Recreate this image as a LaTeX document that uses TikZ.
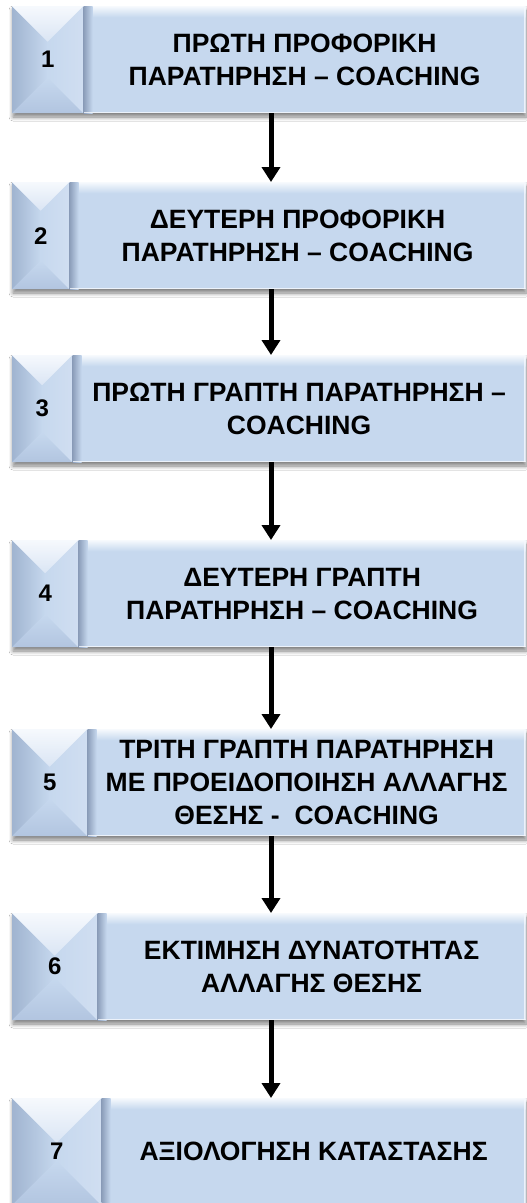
\documentclass[tikz,border=0pt]{standalone}
\usepackage{fontspec}
\setmainfont{Liberation Sans}
\usetikzlibrary{arrows.meta,shadows.blur,calc}

\definecolor{cellfill}{RGB}{198,216,238}
\definecolor{cellhi}{RGB}{246,249,253}
\definecolor{celldark}{RGB}{140,158,186}
\definecolor{facettop}{RGB}{218,229,244}
\definecolor{facetleft}{RGB}{160,180,208}
\definecolor{facetright}{RGB}{208,222,241}
\definecolor{facetbottom}{RGB}{178,197,224}

\tikzset{
  x=1pt, y=-1pt,
  plate/.style={fill=cellfill, blur shadow={shadow xshift=1pt, shadow yshift=-4pt,
      shadow blur radius=4pt, shadow blur steps=6, shadow opacity=50}},
  numcell/.style={minimum height=107pt, inner sep=0pt, text=black,
    font=\fontsize{24}{28}\selectfont\bfseries,
    path picture={
      \coordinate (nw) at (path picture bounding box.north west);
      \coordinate (ne) at (path picture bounding box.north east);
      \coordinate (sw) at (path picture bounding box.south west);
      \coordinate (se) at (path picture bounding box.south east);
      \coordinate (ct) at ($(nw)+(\halfw,\halfw)$);
      \coordinate (cb) at ($(sw)+(\halfw,-\halfw)$);
      \shade[left color=facetleft, right color=cellfill] (nw) -- (ct) -- (cb) -- (sw) -- cycle;
      \shade[left color=cellfill, right color=facetright] (ne) -- (ct) -- (cb) -- (se) -- cycle;
      \shade[top color=cellhi, bottom color=facettop] (nw) -- (ne) -- (ct) -- cycle;
      \shade[top color=cellfill, bottom color=facetbottom] (sw) -- (se) -- (cb) -- cycle;
    }},
  maincell/.style={minimum height=107pt, inner sep=0pt, text=black, align=center,
    font=\fontsize{26.5}{33}\selectfont\bfseries,
    path picture={
      \fill[cellfill] (path picture bounding box.north west) rectangle (path picture bounding box.south east);
      \shade[top color=cellhi, bottom color=cellfill]
        (path picture bounding box.north west) rectangle ($(path picture bounding box.north east)+(0,11)$);
      \shade[left color=celldark, right color=cellfill]
        (path picture bounding box.north west) rectangle ($(path picture bounding box.south west)+(9,0)$);
      \fill[cellhi, opacity=.8]
        ($(path picture bounding box.south west)+(0,-1.5)$) rectangle (path picture bounding box.south east);
      \fill[cellhi, opacity=.8]
        ($(path picture bounding box.north east)+(-1.5,0)$) rectangle (path picture bounding box.south east);
    }},
  flowarrow/.style={line width=5pt, -{Triangle[width=18pt,length=15pt]}, black}
}

% one step: id, top edge, width of the number cell, number, caption
\newcommand\flowstep[5]{%
  \fill[plate] (12,#2) rectangle ++(513,107);
  \pgfmathsetmacro\halfw{#3/2}%
  \node[numcell, minimum width=#3pt, anchor=north west] (n#1) at (12,#2) {#4};
  \pgfmathsetmacro\mainw{513-#3}%
  \node[maincell, minimum width=\mainw pt, anchor=north west] (b#1) at (n#1.north east) {#5};
}

\begin{document}
\begin{tikzpicture}
  \useasboundingbox (0,0) rectangle (527,1203);
  \clip (0,0) rectangle (527,1203);
  \fill[white] (0,0) rectangle (527,1203);

  \coordinate (axis) at (271,0);

  \flowstep{1}{6}{71}{1}{ΠΡΩΤΗ ΠΡΟΦΟΡΙΚΗ\\ΠΑΡΑΤΗΡΗΣΗ – COACHING}
  \flowstep{2}{182}{57}{2}{ΔΕΥΤΕΡΗ ΠΡΟΦΟΡΙΚΗ\\ΠΑΡΑΤΗΡΗΣΗ – COACHING}
  \flowstep{3}{355}{60}{3}{ΠΡΩΤΗ ΓΡΑΠΤΗ ΠΑΡΑΤΗΡΗΣΗ –\\COACHING}
  \flowstep{4}{540}{66}{4}{ΔΕΥΤΕΡΗ ΓΡΑΠΤΗ\\ΠΑΡΑΤΗΡΗΣΗ – COACHING}
  \flowstep{5}{729}{75}{5}{ΤΡΙΤΗ ΓΡΑΠΤΗ ΠΑΡΑΤΗΡΗΣΗ\\ΜΕ ΠΡΟΕΙΔΟΠΟΙΗΣΗ ΑΛΛΑΓΗΣ\\ΘΕΣΗΣ -\ \ COACHING}
  \flowstep{6}{913}{85}{6}{ΕΚΤΙΜΗΣΗ ΔΥΝΑΤΟΤΗΤΑΣ\\ΑΛΛΑΓΗΣ ΘΕΣΗΣ}
  \flowstep{7}{1098}{89}{7}{ΑΞΙΟΛΟΓΗΣΗ ΚΑΤΑΣΤΑΣΗΣ}

  \foreach \i/\j in {1/2,2/3,3/4,4/5,5/6,6/7}
    \draw[flowarrow] (b\i.south -| axis) -- (b\j.north -| axis);
\end{tikzpicture}
\end{document}
